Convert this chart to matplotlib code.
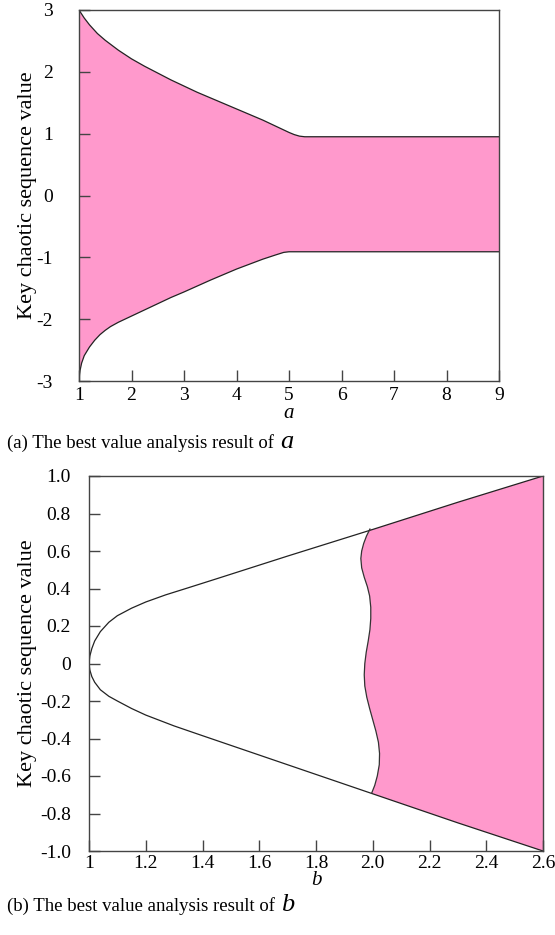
import matplotlib
matplotlib.use("Agg")
import matplotlib.pyplot as plt
import numpy as np

# ---- (a) envelope of the key chaotic sequence versus parameter a ----
a_upper_x = [1.0, 1.1, 1.2, 1.35, 1.5, 1.75, 2.0, 2.25, 2.5, 2.75, 3.0, 3.25, 3.5, 3.75,
             4.0, 4.25, 4.5, 4.75, 4.9, 5.0, 5.1, 5.2, 5.3, 9.0]
a_upper_y = [3.0, 2.87, 2.76, 2.62, 2.51, 2.35, 2.21, 2.09, 1.98, 1.87, 1.77, 1.67, 1.58, 1.49,
             1.40, 1.31, 1.22, 1.12, 1.06, 1.02, 0.985, 0.96, 0.95, 0.95]
a_lower_x = [1.0, 1.01, 1.02, 1.05, 1.1, 1.2, 1.3, 1.4, 1.5, 1.6, 1.75, 2.0, 2.25, 2.5, 2.75,
             3.0, 3.5, 4.0, 4.5, 4.75, 4.9, 5.0, 9.0]
a_lower_y = [-3.0, -2.89, -2.83, -2.71, -2.59, -2.45, -2.34, -2.25, -2.18, -2.12, -2.05, -1.95,
             -1.85, -1.75, -1.65, -1.56, -1.37, -1.19, -1.03, -0.96, -0.92, -0.91, -0.91]
a_ticks = [1, 2, 3, 4, 5, 6, 7, 8, 9]
a_yticks = [-3, -2, -1, 0, 1, 2, 3]

# ---- (b) envelope versus parameter b ----
b_upper_x = [1.0, 1.003, 1.01, 1.02, 1.04, 1.07, 1.1, 1.15, 1.2, 1.27, 1.35, 1.45, 1.7,
             2.0, 2.3, 2.6]
b_upper_y = [0.0, 0.04, 0.08, 0.12, 0.17, 0.22, 0.255, 0.295, 0.328, 0.366, 0.404, 0.452, 0.573,
             0.715, 0.86, 1.0]
b_lower_x = [1.0, 1.003, 1.01, 1.02, 1.04, 1.07, 1.1, 1.15, 1.2, 1.3, 1.4, 1.7, 2.0, 2.3, 2.6]
b_lower_y = [0.0, -0.035, -0.07, -0.10, -0.14, -0.175, -0.20, -0.24, -0.275, -0.333, -0.385,
             -0.54, -0.695, -0.85, -1.0]
# boundary of the chaotic region (x as a function of y), from top to bottom
b_edge_y = [0.717, 0.68, 0.64, 0.60, 0.56, 0.51, 0.46, 0.41, 0.36, 0.30, 0.24, 0.18, 0.12,
            0.06, 0.0, -0.06, -0.12, -0.18, -0.24, -0.30, -0.36, -0.42, -0.48, -0.54,
            -0.60, -0.65, -0.692]
b_edge_x = [1.990, 1.978, 1.968, 1.961, 1.958, 1.961, 1.970, 1.981, 1.989, 1.993, 1.993,
            1.990, 1.984, 1.977, 1.972, 1.970, 1.972, 1.979, 1.989, 2.000, 2.011, 2.020,
            2.024, 2.023, 2.016, 2.007, 1.996]
b_ticks = [1.0, 1.2, 1.4, 1.6, 1.8, 2.0, 2.2, 2.4, 2.6]
b_ticklabels = ["1", "1.2", "1.4", "1.6", "1.8", "2.0", "2.2", "2.4", "2.6"]
b_yticks = [-1.0, -0.8, -0.6, -0.4, -0.2, 0.0, 0.2, 0.4, 0.6, 0.8, 1.0]
b_yticklabels = ["-1.0", "-0.8", "-0.6", "-0.4", "-0.2", "0", "0.2", "0.4", "0.6", "0.8", "1.0"]

PINK = "#FF99CC"
SERIF = ["Liberation Serif", "DejaVu Serif"]
plt.rcParams["font.family"] = SERIF
plt.rcParams["axes.unicode_minus"] = False

fig = plt.figure(figsize=(5.55, 9.35), dpi=100)
W, H = 555, 935
TICK_FS = 14
LABEL_FS = 16
CAP_FS = 13.5


def px_axes(l, t, r, b):
    return fig.add_axes([l / W, 1 - b / H, (r - l) / W, (b - t) / H])


def style(ax):
    for s in ax.spines.values():
        s.set_color("#444444")
        s.set_linewidth(1.0)
    ax.tick_params(direction="in", length=8, width=1.0, color="#444444",
                   labelsize=TICK_FS, top=False, right=False)


def caption(y_px, text, letter):
    t = fig.text(7 / W, 1 - y_px / H, text, fontsize=CAP_FS, ha="left", va="baseline")
    fig.canvas.draw()
    bb = t.get_window_extent()
    fig.text((bb.x1 + 6) / W, 1 - y_px / H, letter, fontsize=19, fontstyle="italic",
             ha="left", va="baseline")


# panel (a)
ax1 = px_axes(79, 10, 499, 381)
ux = np.array(a_upper_x)
uy = np.array(a_upper_y)
lx = np.array(a_lower_x)
ly = np.array(a_lower_y)
poly_x = np.concatenate([ux, lx[::-1]])
poly_y = np.concatenate([uy, ly[::-1]])
ax1.fill(poly_x, poly_y, color=PINK, lw=0)
ax1.plot(ux, uy, color="#222222", lw=0.9)
ax1.plot(lx, ly, color="#222222", lw=0.9)
ax1.set_xlim(1, 9)
ax1.set_ylim(-3, 3)
ax1.set_xticks(a_ticks)
ax1.set_yticks(a_yticks)
style(ax1)
ax1.tick_params(axis="y", pad=19)
ax1.tick_params(axis="x", pad=4)
ax1.set_xlabel("a", fontstyle="italic", fontsize=15, labelpad=0)
ax1.set_ylabel("Key chaotic sequence value", fontsize=LABEL_FS)
ax1.yaxis.set_label_coords(-(79 - 37) / 420, 0.5)

# panel (b)
ax2 = px_axes(89, 476, 543, 851)
bux = np.array(b_upper_x)
buy = np.array(b_upper_y)
blx = np.array(b_lower_x)
bly = np.array(b_lower_y)
ex = np.array(b_edge_x)
ey = np.array(b_edge_y)
# chaotic region: edge curve, lower envelope to the right end, up the right edge, back along upper
sel_l = blx > ex[-1]
sel_u = bux > ex[0]
reg_x = np.concatenate([ex, blx[sel_l], bux[sel_u][::-1]])
reg_y = np.concatenate([ey, bly[sel_l], buy[sel_u][::-1]])
ax2.fill(reg_x, reg_y, color=PINK, lw=0)
ax2.plot(bux, buy, color="#222222", lw=0.9)
ax2.plot(blx, bly, color="#222222", lw=0.9)
ax2.plot(ex, ey, color="#333333", lw=0.9)
ax2.set_xlim(1.0, 2.6)
ax2.set_ylim(-1.0, 1.0)
ax2.set_xticks(b_ticks)
ax2.set_xticklabels(b_ticklabels)
ax2.set_yticks(b_yticks)
ax2.set_yticklabels(b_yticklabels)
style(ax2)
ax2.tick_params(axis="y", pad=13)
ax2.tick_params(axis="x", pad=3)
ax2.set_xlabel("b", fontstyle="italic", fontsize=15, labelpad=-1)
ax2.set_ylabel("Key chaotic sequence value", fontsize=LABEL_FS)
ax2.yaxis.set_label_coords(-(89 - 37) / 454, 0.5)

caption(448, "(a) The best value analysis result of", "a")
caption(911, "(b) The best value analysis result of", "b")

fig.savefig("out.png", dpi=100)
